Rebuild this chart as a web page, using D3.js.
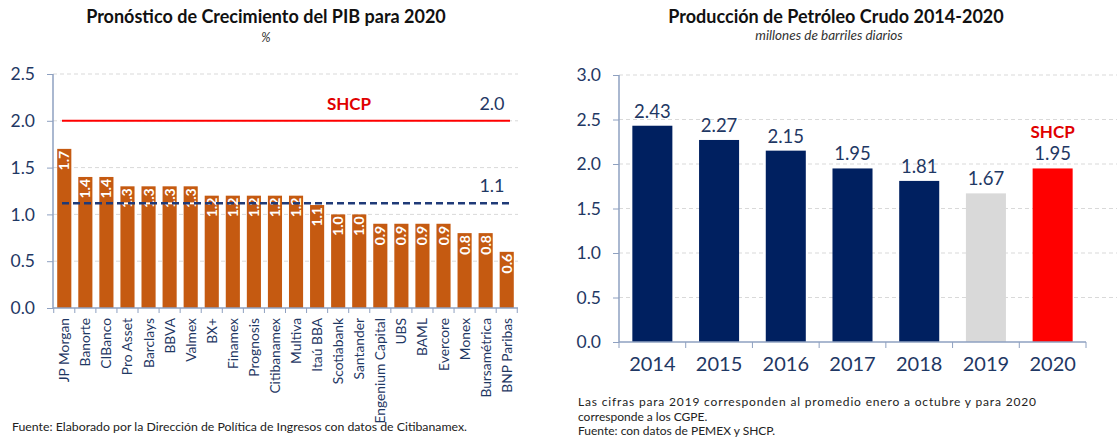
<!DOCTYPE html>
<html><head><meta charset="utf-8">
<script src="https://cdn.jsdelivr.net/npm/d3@7"></script>
<style>
body{margin:0;background:#fff;}
svg text{font-family:Lato,"Open Sans",sans-serif;}
</style></head>
<body><svg id="c" width="1119" height="437"></svg>
<script>
// Left chart data
const banks = ["JP Morgan","Banorte","CIBanco","Pro Asset","Barclays","BBVA","Valmex","BX+","Finamex","Prognosis","Citibanamex","Multiva","Itaú BBA","Scotiabank","Santander","Engenium Capital","UBS","BAML","Evercore","Monex","Bursamétrica","BNP Paribas"];
const pibValues = [1.7,1.4,1.4,1.3,1.3,1.3,1.3,1.2,1.2,1.2,1.2,1.2,1.1,1.0,1.0,0.9,0.9,0.9,0.9,0.8,0.8,0.6];
const shcpPib = 2.0;
const avgPib = 1.12;
const leftTicks = [0,0.5,1.0,1.5,2.0,2.5];
// Right chart data
const years = ["2014","2015","2016","2017","2018","2019","2020"];
const oilValues = [2.43,2.27,2.15,1.95,1.81,1.67,1.95];
const oilKinds = ["hist","hist","hist","hist","hist","est","shcp"];
const rightTicks = [0,0.5,1.0,1.5,2.0,2.5,3.0];

const navy="#1F3864", axisCol="#8EA0C0", gridCol="#D9D9D9";
const svg=d3.select("#c");

// ===== Left chart =====
{
  const g=svg.append("g");
  const y=d3.scaleLinear().domain([0,2.5]).range([308,74]);
  const x=d3.scaleBand().domain(banks).range([53,518]).paddingInner(0.33).paddingOuter(0.2);
  g.selectAll("line.grid").data(leftTicks.filter(d=>d>0)).join("line")
    .attr("x1",53).attr("x2",518).attr("y1",d=>y(d)).attr("y2",d=>y(d))
    .attr("stroke",gridCol).attr("stroke-dasharray","4,3").attr("stroke-width",1);
  g.selectAll("rect").data(pibValues).join("rect")
    .attr("x",(d,i)=>x(banks[i])).attr("width",x.bandwidth())
    .attr("y",d=>y(d)).attr("height",d=>y(0)-y(d)).attr("fill","#C55A11");
  g.selectAll("text.bl").data(pibValues).join("text")
    .attr("transform",(d,i)=>`translate(${x(banks[i])+x.bandwidth()/2+5},${y(d)+2}) rotate(-90)`)
    .attr("text-anchor","end").attr("fill","#fff").attr("font-weight","bold").attr("font-size",14)
    .text(d=>d.toFixed(1));
  const ya=g.append("g").attr("transform","translate(53,0)")
    .call(d3.axisLeft(y).tickValues(leftTicks).tickFormat(d3.format(".1f")).tickSize(6).tickPadding(12));
  ya.select(".domain").attr("stroke",axisCol).attr("stroke-width",1.5).attr("d","M0,74V308");
  ya.selectAll(".tick line").attr("stroke",axisCol);
  ya.selectAll(".tick text").attr("fill",navy).attr("font-size",17.5).attr("font-family","Lato");
  const xa=g.append("g").attr("transform","translate(0,308)");
  xa.append("line").attr("x1",53).attr("x2",518).attr("stroke",axisCol).attr("stroke-width",1.5);
  const step=x.step();
  const seps=d3.range(banks.length+1).map(i=>x(banks[0])-step*x.paddingInner()/2+i*step);
  xa.selectAll("line.t").data(seps).join("line").attr("x1",d=>d).attr("x2",d=>d).attr("y1",0).attr("y2",5).attr("stroke",axisCol);
  xa.selectAll("text").data(banks).join("text")
    .attr("transform",d=>`translate(${x(d)+x.bandwidth()/2+5},10) rotate(-90)`)
    .attr("text-anchor","end").attr("fill",navy).attr("font-size",13.8).text(d=>d);
  g.append("line").attr("x1",62).attr("x2",510).attr("y1",y(shcpPib)).attr("y2",y(shcpPib)).attr("stroke","#FF0000").attr("stroke-width",2);
  g.append("text").attr("x",349).attr("y",y(shcpPib)-11).attr("text-anchor","middle").attr("fill","#E00000").attr("font-weight","bold").attr("font-size",17).text("SHCP");
  g.append("text").attr("x",492).attr("y",y(shcpPib)-11).attr("text-anchor","middle").attr("fill",navy).attr("font-size",18).text(shcpPib.toFixed(1));
  g.append("line").attr("x1",62).attr("x2",510).attr("y1",y(avgPib)).attr("y2",y(avgPib)).attr("stroke","#1F3A78").attr("stroke-width",2.5).attr("stroke-dasharray","7,4");
  g.append("text").attr("x",492).attr("y",y(avgPib)-11).attr("text-anchor","middle").attr("fill",navy).attr("font-size",18).text(avgPib.toFixed(1));
  g.append("text").attr("x",266).attr("y",23).attr("text-anchor","middle").attr("font-weight","bold").attr("font-size",18).attr("fill","#111").text("Pronóstico de Crecimiento del PIB para 2020");
  g.append("text").attr("x",266).attr("y",42).attr("text-anchor","middle").attr("font-style","italic").attr("font-size",12.5).attr("fill","#333").text("%");
  g.append("text").attr("x",12).attr("y",431).attr("font-size",12.3).attr("fill","#222").text("Fuente: Elaborado por la Dirección de Política de Ingresos con datos de Citibanamex.");
}

// ===== Right chart =====
{
  const g=svg.append("g");
  const y=d3.scaleLinear().domain([0,3]).range([342,75]);
  const x=d3.scaleBand().domain(years).range([619,1086]).padding(0.4).paddingOuter(0.2);
  g.selectAll("line.grid").data(rightTicks.filter(d=>d>0)).join("line")
    .attr("x1",619).attr("x2",1117).attr("y1",d=>y(d)).attr("y2",d=>y(d))
    .attr("stroke",gridCol).attr("stroke-dasharray","4,3");
  const col={hist:"#002060",est:"#D9D9D9",shcp:"#FF0000"};
  g.selectAll("rect").data(oilValues).join("rect")
    .attr("x",(d,i)=>x(years[i])).attr("width",x.bandwidth())
    .attr("y",d=>y(d)).attr("height",d=>y(0)-y(d)).attr("fill",(d,i)=>col[oilKinds[i]]);
  g.selectAll("text.vl").data(oilValues).join("text")
    .attr("x",(d,i)=>x(years[i])+x.bandwidth()/2).attr("y",d=>y(d)-8)
    .attr("text-anchor","middle").attr("fill",navy).attr("font-size",18.5).text(d=>d.toFixed(2));
  g.append("text").attr("x",x("2020")+x.bandwidth()/2).attr("y",y(oilValues[6])-30)
    .attr("text-anchor","middle").attr("fill","#E00000").attr("font-weight","bold").attr("font-size",17).text("SHCP");
  const ya=g.append("g").attr("transform","translate(619,0)")
    .call(d3.axisLeft(y).tickValues(rightTicks).tickFormat(d3.format(".1f")).tickSize(6).tickPadding(12));
  ya.select(".domain").attr("stroke",axisCol).attr("stroke-width",1.5).attr("d","M0,75V342");
  ya.selectAll(".tick line").attr("stroke",axisCol);
  ya.selectAll(".tick text").attr("fill",navy).attr("font-size",17.5).attr("font-family","Lato");
  const xa=g.append("g").attr("transform","translate(0,342)");
  xa.append("line").attr("x1",619).attr("x2",1086).attr("stroke",axisCol).attr("stroke-width",1.5);
  const step=x.step();
  const seps=d3.range(years.length+1).map(i=>x(years[0])-step*x.paddingInner()/2+i*step);
  xa.selectAll("line.t").data(seps).join("line").attr("x1",d=>d).attr("x2",d=>d).attr("y1",0).attr("y2",6).attr("stroke",axisCol);
  xa.selectAll("text").data(years).join("text")
    .attr("x",d=>x(d)+x.bandwidth()/2).attr("y",29).attr("text-anchor","middle")
    .attr("fill",navy).attr("font-size",20).text(d=>d);
  g.append("text").attr("x",836).attr("y",23).attr("text-anchor","middle").attr("font-weight","bold").attr("font-size",18).attr("fill","#111").text("Producción de Petróleo Crudo 2014-2020");
  g.append("text").attr("x",829).attr("y",40).attr("text-anchor","middle").attr("font-style","italic").attr("font-size",13.5).attr("fill","#333").text("millones de barriles diarios");
  const notes=["corresponde a los CGPE.","Fuente: con datos de PEMEX y SHCP."];
  g.append("text").attr("x",578).attr("y",406).attr("font-size",12).attr("fill","#222")
    .attr("textLength",458).attr("lengthAdjust","spacing")
    .text("Las cifras para 2019 corresponden al promedio enero a octubre y para 2020");
  g.selectAll("text.n").data(notes).join("text").attr("x",578).attr("y",(d,i)=>421+i*14)
    .attr("font-size",12).attr("fill","#222").text(d=>d);
}
</script></body></html>
